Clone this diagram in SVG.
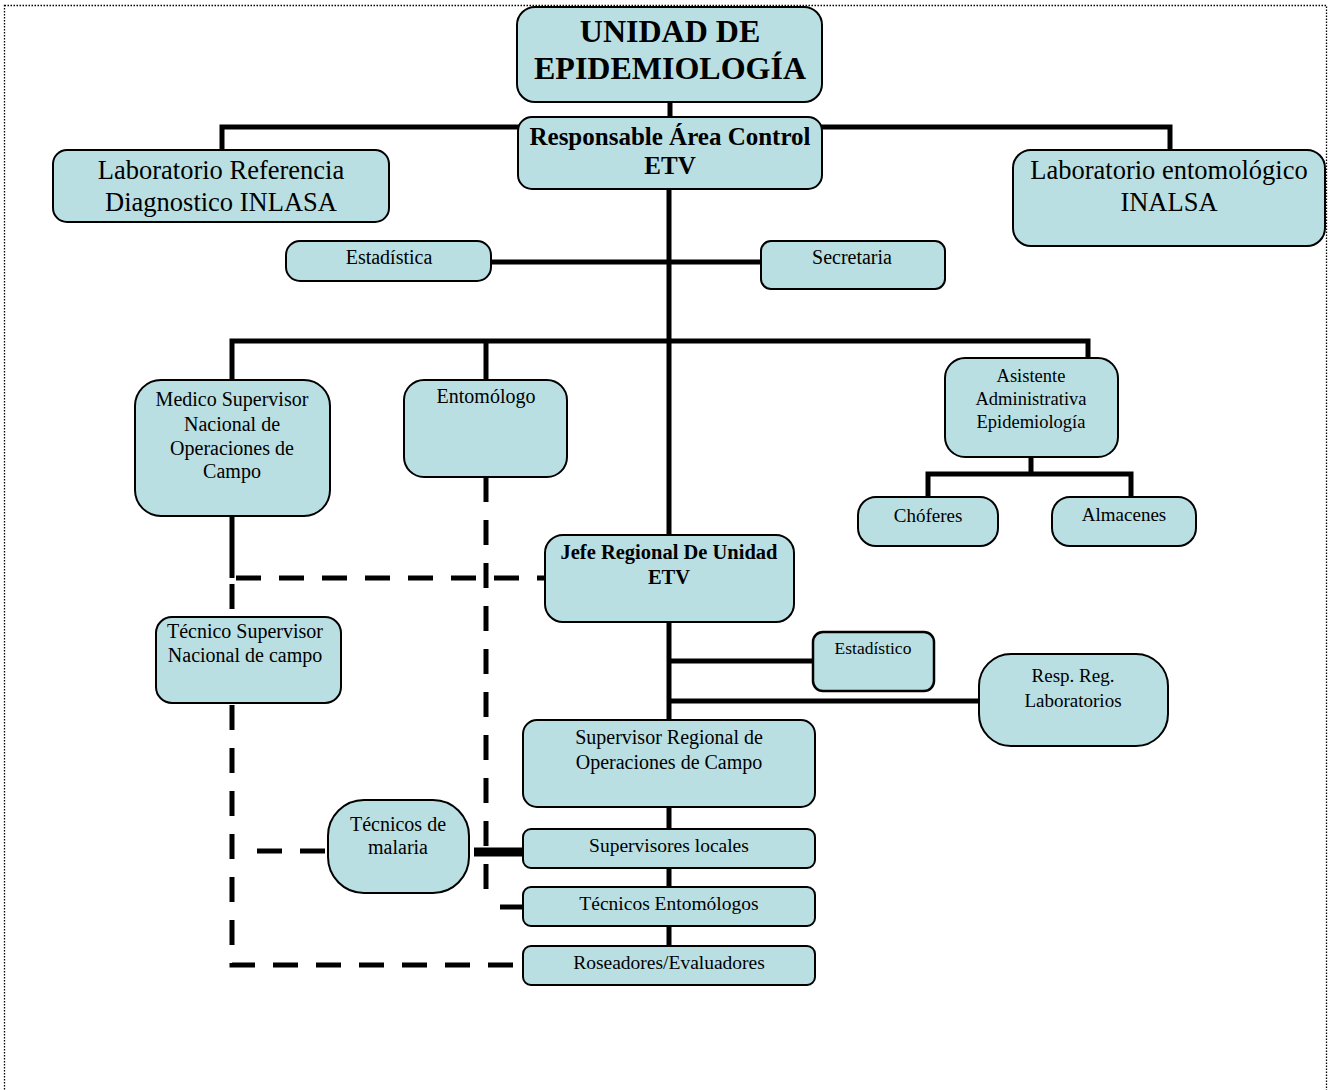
<svg xmlns="http://www.w3.org/2000/svg" width="1333" height="1090" viewBox="0 0 1333 1090">
<style>
.box{fill:#b9dfe2;stroke:#000;stroke-width:2}
text{font-family:"Liberation Serif","Times New Roman",serif;fill:#000;text-anchor:middle}
.b{font-weight:bold}
.s{stroke:#000;stroke-width:5;fill:none}
.d{stroke:#000;stroke-width:5;fill:none;stroke-dasharray:25 18}
</style>
<rect x="4.5" y="5.5" width="1322" height="1110" fill="none" stroke="#000" stroke-width="1.3" stroke-dasharray="1.5 1.5"/>
<g id="connectors">
<path class="s" d="M222,150V127H1170V150"/>
<path class="s" d="M670,102V117"/>
<path class="s" d="M669,189V535"/>
<path class="s" d="M491,262H761"/>
<path class="s" d="M232,380V341H1088V358"/>
<path class="s" d="M486,341V380"/>
<path class="s" d="M1031,457V474"/>
<path class="s" d="M928,497V474H1131V497"/>
<path class="s" d="M232,516V578"/>
<path class="d" d="M236,578H545"/>
<path class="d" d="M232,584V617"/>
<path class="d" d="M232,705V965H523"/>
<path class="d" d="M486,477V904"/>
<path class="s" d="M500,907H523"/>
<path class="d" d="M257,851H328"/>
<path class="s" d="M474,852H523" style="stroke-width:9"/>
<path class="s" d="M669,622V720"/>
<path class="s" d="M669,661H813"/>
<path class="s" d="M669,701H979"/>
<path class="s" d="M669,807V829M669,868V887M669,926V946"/>
</g>
<g id="unidad"><rect class="box" x="517" y="7" width="305" height="95" rx="18"/><text class="b" x="670" y="42" font-size="32">UNIDAD DE</text><text class="b" x="670" y="79" font-size="32">EPIDEMIOLOGÍA</text></g>
<g id="responsable"><rect class="box" x="518" y="117" width="304" height="72" rx="14"/><text class="b" x="670" y="145" font-size="25">Responsable Área Control</text><text class="b" x="670" y="174" font-size="25">ETV</text></g>
<g id="lab-ref"><rect class="box" x="53" y="150" width="336" height="72" rx="14"/><text x="221" y="179" font-size="26.5">Laboratorio Referencia</text><text x="221" y="211" font-size="26.5">Diagnostico INLASA</text></g>
<g id="lab-ento"><rect class="box" x="1013" y="150" width="312" height="96" rx="18"/><text x="1169" y="179" font-size="26.5">Laboratorio entomológico</text><text x="1169" y="211" font-size="26.5">INALSA</text></g>
<g id="estadistica"><rect class="box" x="286" y="241" width="205" height="40" rx="14"/><text x="389" y="264" font-size="20">Estadística</text></g>
<g id="secretaria"><rect class="box" x="761" y="241" width="184" height="48" rx="10"/><text x="852" y="264" font-size="20">Secretaria</text></g>
<g id="medico"><rect class="box" x="135" y="380" width="195" height="136" rx="26"/><text x="232" y="406" font-size="20">Medico Supervisor</text><text x="232" y="431" font-size="20">Nacional de</text><text x="232" y="455" font-size="20">Operaciones de</text><text x="232" y="478" font-size="20">Campo</text></g>
<g id="entomologo"><rect class="box" x="404" y="380" width="163" height="97" rx="20"/><text x="486" y="403" font-size="20">Entomólogo</text></g>
<g id="asistente"><rect class="box" x="945" y="358" width="173" height="99" rx="20"/><text x="1031" y="382" font-size="18.5">Asistente</text><text x="1031" y="405" font-size="18.5">Administrativa</text><text x="1031" y="428" font-size="18.5">Epidemiología</text></g>
<g id="choferes"><rect class="box" x="858" y="497" width="140" height="49" rx="18"/><text x="928" y="522" font-size="19">Chóferes</text></g>
<g id="almacenes"><rect class="box" x="1052" y="497" width="144" height="49" rx="18"/><text x="1124" y="521" font-size="19">Almacenes</text></g>
<g id="jefe"><rect class="box" x="545" y="535" width="249" height="87" rx="18"/><text class="b" x="669" y="559" font-size="20.5">Jefe Regional De Unidad</text><text class="b" x="669" y="584" font-size="20.5">ETV</text></g>
<g id="tecnico-sup"><rect class="box" x="156" y="617" width="185" height="86" rx="16"/><text x="245" y="638" font-size="20">Técnico Supervisor</text><text x="245" y="662" font-size="20">Nacional de campo</text></g>
<g id="estadistico"><rect class="box" x="813" y="632" width="121" height="59" rx="10" style="stroke-width:2.5"/><text x="873" y="654" font-size="17.5">Estadístico</text></g>
<g id="resp-lab"><rect class="box" x="979" y="654" width="189" height="92" rx="32"/><text x="1073" y="682" font-size="19">Resp.  Reg.</text><text x="1073" y="707" font-size="19">Laboratorios</text></g>
<g id="supervisor-reg"><rect class="box" x="523" y="720" width="292" height="87" rx="14"/><text x="669" y="744" font-size="20">Supervisor Regional de</text><text x="669" y="769" font-size="20">Operaciones de Campo</text></g>
<g id="malaria"><rect class="box" x="328" y="800" width="141" height="93" rx="36"/><text x="398" y="831" font-size="20">Técnicos de</text><text x="398" y="854" font-size="20">malaria</text></g>
<g id="sup-locales"><rect class="box" x="523" y="829" width="292" height="39" rx="8"/><text x="669" y="852" font-size="19.5">Supervisores locales</text></g>
<g id="tec-ento"><rect class="box" x="523" y="887" width="292" height="39" rx="8"/><text x="669" y="910" font-size="19.5">Técnicos Entomólogos</text></g>
<g id="roseadores"><rect class="box" x="523" y="946" width="292" height="39" rx="8"/><text x="669" y="969" font-size="19.5">Roseadores/Evaluadores</text></g>
</svg>
